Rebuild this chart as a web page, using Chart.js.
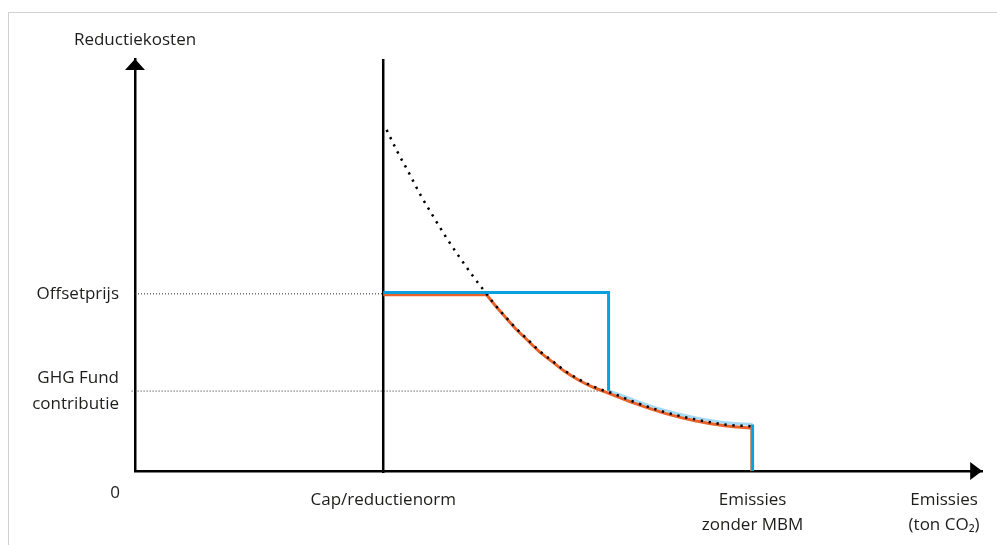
<!DOCTYPE html>
<html>
<head>
<meta charset="utf-8">
<script src="https://cdn.jsdelivr.net/npm/chart.js@4.4.1/dist/chart.umd.min.js"></script>
<style>
  html, body { margin: 0; padding: 0; background: #fff; }
  #wrap { position: relative; width: 997px; height: 545px; overflow: hidden; }
  #frame { position: absolute; left: 8px; top: 12px; right: -4px; bottom: -4px;
           border-top: 1px solid #d2d2d2; border-left: 1px solid #d2d2d2; }
  canvas { position: absolute; left: 0; top: 0; }
</style>
</head>
<body>
<div id="wrap"><div id="frame"></div><canvas id="chart" width="997" height="545"></canvas></div>
<script>
// ── Gegevens (schematisch, assen 0–100) ───────────────────────────────

const capX = 29.3;          // Cap/reductienorm
const noMbmX = 72.9;        // Emissies zonder MBM
const offsetPrice = 43.0;   // Offsetprijs
const ghgPrice = 19.4;      // GHG Fund contributie

// marginale reductiekostencurve (gestippeld)
const curveX = [29.7, 31.0, 32.35, 33.7, 35.2, 36.7, 38.3, 40.0, 41.2, 42.35, 43.65, 44.9, 46.3, 47.65, 49.2, 50.7, 52.35, 53.9, 55.5, 56.3, 59.0, 62.55, 66.1, 69.8, 72.9];
const curveY = [82.8, 77.4, 72.3, 67.0, 61.8, 56.8, 51.9, 47.0, 43.8, 40.7, 37.6, 34.8, 32.0, 29.3, 26.8, 24.4, 22.3, 20.7, 19.4, 18.9, 16.7, 14.3, 12.55, 11.25, 10.85];

// offsets (oranje)
const offsetFlatX = [29.3, 41.5];
const offsetFlatY = [42.8, 42.8];
const offsetCurveX = [41.5, 42.35, 43.65, 44.9, 46.3, 47.65, 49.2, 50.7, 52.35, 53.9, 55.5, 59.0, 62.55, 66.1, 69.8, 72.7];
const offsetCurveY = [42.8, 40.6, 37.5, 34.6, 31.8, 29.1, 26.6, 24.2, 22.1, 20.5, 19.2, 16.4, 14.0, 12.2, 10.9, 10.4];
const offsetDropX = [72.7, 72.7];
const offsetDropY = [10.4, 0];

// GHG Fund (blauw)
const fundStepX = [29.3, 55.9, 55.9];
const fundStepY = [43.3, 43.3, 19.5];
const fundCurveX = [55.9, 59.0, 62.55, 66.1, 69.8, 72.9];
const fundCurveY = [19.5, 17.1, 14.7, 12.95, 11.7, 11.3];
const fundDropX = [72.9, 72.9];
const fundDropY = [11.3, 0];

// as-labels
const xTickValues = [capX, noMbmX, 95.5];
const xTickLabels = ["Cap/reductienorm", ["Emissies", "zonder MBM"], ["Emissies", "(ton CO₂)"]];
const yTickValues = [ghgPrice, offsetPrice];
const yTickLabels = [["GHG Fund", "contributie"], "Offsetprijs"];
const yTitle = "Reductiekosten";
const originLabel = "0";

// ── Hulpfuncties ───────────────────────────────────────────────────────

const FONT = "'Open Sans', 'Noto Sans', sans-serif";
const TEXT = "#1d1d1b";
const ORANGE = "#e8622a";
const BLUE = "#0aa0e0";
const LIGHT_BLUE = "#a6d9f3";

function pts(xs, ys) {
  return xs.map((x, i) => ({ x, y: ys[i] }));
}

function line(xs, ys, extra) {
  return Object.assign({
    data: pts(xs, ys),
    pointRadius: 0,
    fill: false,
    tension: 0,
    borderCapStyle: "butt",
    borderJoinStyle: "miter",
  }, extra);
}

// pijlpunten, astitel en oorsprong
const axisDecor = {
  id: "axisDecor",
  afterDraw(chart) {
    const { ctx, chartArea: a } = chart;
    ctx.save();
    ctx.fillStyle = "#000";
    // y-pijl
    ctx.beginPath();
    ctx.moveTo(a.left, a.top);
    ctx.lineTo(a.left - 10, a.top + 11);
    ctx.lineTo(a.left + 10, a.top + 11);
    ctx.closePath();
    ctx.fill();
    // x-pijl
    ctx.beginPath();
    ctx.moveTo(a.right, a.bottom);
    ctx.lineTo(a.right - 12, a.bottom - 9);
    ctx.lineTo(a.right - 12, a.bottom + 9);
    ctx.closePath();
    ctx.fill();

    ctx.fillStyle = TEXT;
    ctx.font = `17px ${FONT}`;
    ctx.textAlign = "center";
    ctx.textBaseline = "middle";
    ctx.fillText(yTitle, a.left, 40);
    ctx.fillText(originLabel, a.left - 20, a.bottom + 22);
    ctx.restore();
  },
};

// ── Grafiek ────────────────────────────────────────────────────────────

new Chart(document.getElementById("chart"), {
  type: "line",
  data: {
    datasets: [
      line(fundDropX, fundDropY, { borderColor: BLUE, borderWidth: 3 }),
      line(fundStepX, fundStepY, { borderColor: BLUE, borderWidth: 3 }),
      line(offsetDropX, offsetDropY, { borderColor: "#b98a6e", borderWidth: 1.5 }),
      line(curveX, curveY, {
        borderColor: "#000", borderWidth: 2.5, borderDash: [2.3, 5.7],
        cubicInterpolationMode: "monotone",
      }),
      line(offsetCurveX, offsetCurveY, { borderColor: ORANGE, borderWidth: 3, cubicInterpolationMode: "monotone" }),
      line(offsetFlatX, offsetFlatY, { borderColor: ORANGE, borderWidth: 3 }),
      line(fundCurveX, fundCurveY, { borderColor: LIGHT_BLUE, borderWidth: 3, cubicInterpolationMode: "monotone" }),
      line([capX, capX], [-0.5, 100], { borderColor: "#000", borderWidth: 2.5, clip: false }),
      line([0, capX], [offsetPrice, offsetPrice], { borderColor: "#222", borderWidth: 1, borderDash: [1, 2] }),
      line([-0.4, 55.5], [ghgPrice, ghgPrice], { borderColor: "#222", borderWidth: 1, borderDash: [1, 2], clip: false }),
    ],
  },
  options: {
    responsive: false,
    animation: false,
    events: [],
    layout: { padding: { top: 59, right: 10, left: 0, bottom: 0 } },
    plugins: { legend: { display: false }, tooltip: { enabled: false } },
    scales: {
      x: {
        type: "linear",
        min: 0,
        max: 100,
        afterBuildTicks: (s) => { s.ticks = xTickValues.map((v) => ({ value: v })); },
        afterFit: (s) => { s.height = 74; },
        grid: { display: false, drawTicks: false },
        border: { display: true, color: "#000", width: 2.5 },
        ticks: {
          autoSkip: false,
          maxRotation: 0,
          padding: 17,
          color: TEXT,
          font: { family: FONT, size: 17, lineHeight: 1.47 },
          callback: (v, i) => xTickLabels[i],
        },
      },
      y: {
        type: "linear",
        min: 0,
        max: 100,
        afterBuildTicks: (s) => { s.ticks = yTickValues.map((v) => ({ value: v })); },
        afterFit: (s) => { s.width = 135; },
        grid: { display: false, drawTicks: false },
        border: { display: true, color: "#000", width: 2.5 },
        ticks: {
          autoSkip: false,
          padding: 16,
          color: TEXT,
          font: { family: FONT, size: 17, lineHeight: 1.5 },
          callback: (v, i) => yTickLabels[i],
        },
      },
    },
  },
  plugins: [axisDecor],
});
</script>
</body>
</html>
